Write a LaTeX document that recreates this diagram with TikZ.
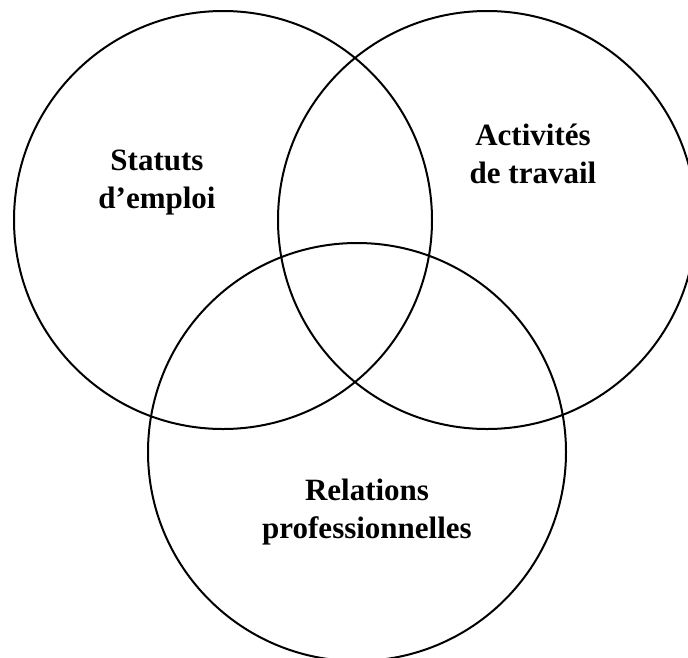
\documentclass[tikz,border=0pt]{standalone}
\usepackage{fontspec}
\setmainfont{Liberation Serif}
\begin{document}
\begin{tikzpicture}[x=1pt,y=-1pt,
  ring/.style={circle,draw=black,line width=2pt,minimum size=418pt,inner sep=0pt},
  label/.style={align=center,font=\bfseries\fontsize{31}{38}\selectfont,anchor=base,inner sep=0pt}]
\useasboundingbox (0,0) rectangle (688,657);
\node[ring] (c1) at (223,220) {};
\node[ring] (c2) at (487,220) {};
\node[ring] (c3) at (357,452) {};
\node[label] (t1) at (157,208) {Statuts\\d’emploi};
\node[label] (t2) at (533,183) {Activités\\de travail};
\node[label] (t3) at (367,538) {Relations\\professionnelles};
\end{tikzpicture}
\end{document}
